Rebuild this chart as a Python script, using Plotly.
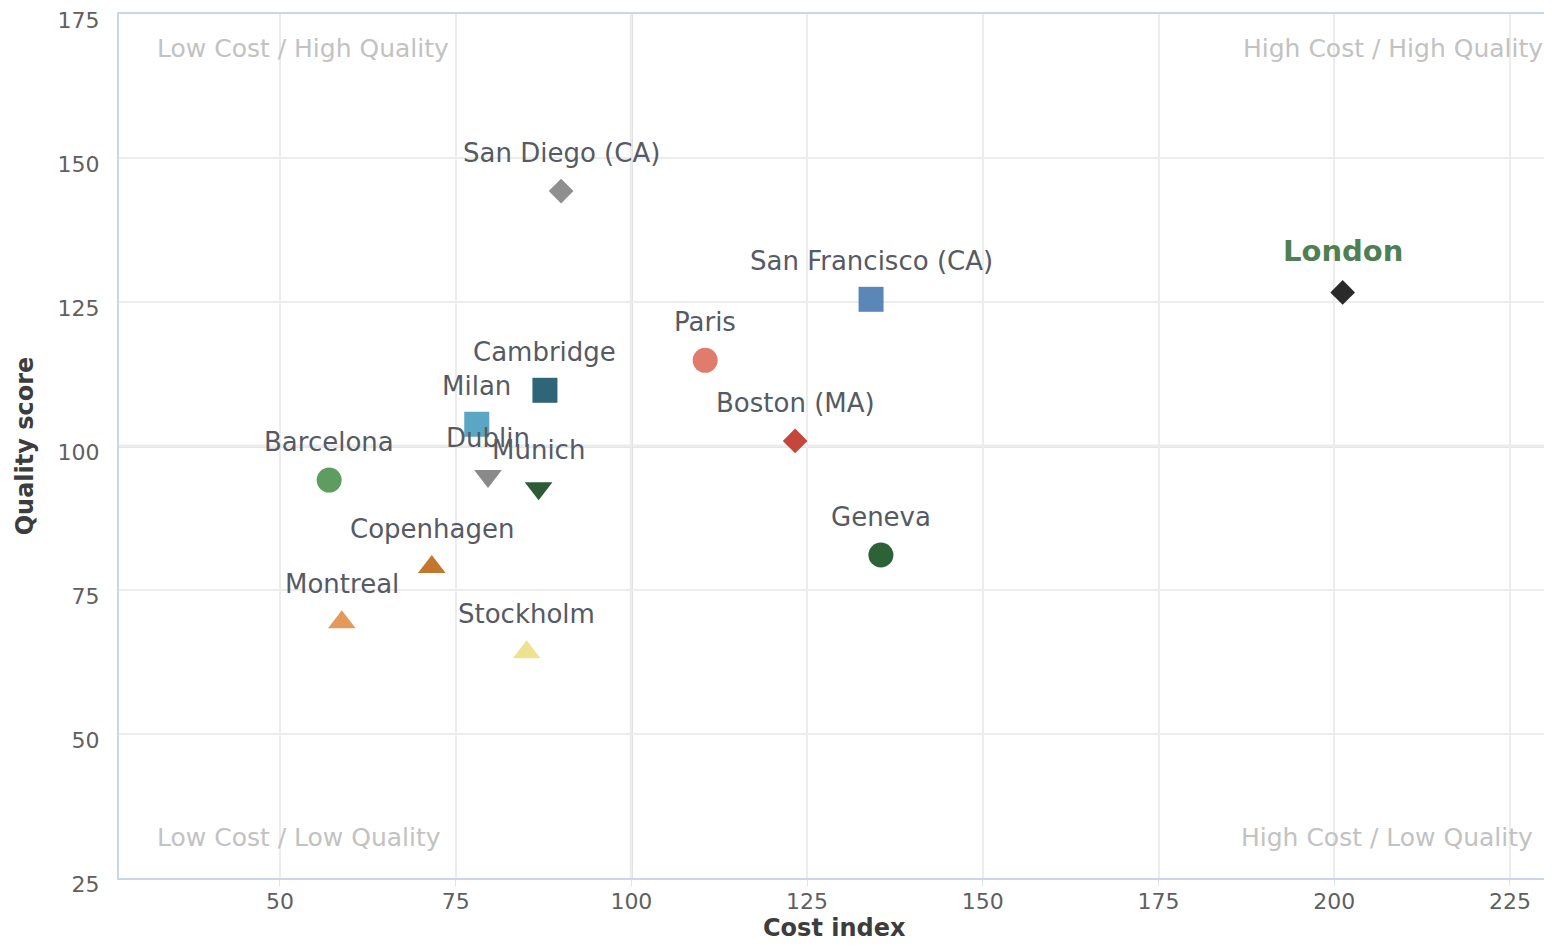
import plotly.graph_objects as go

cities = ["San Diego (CA)", "San Francisco (CA)", "London", "Paris", "Cambridge", "Milan",
          "Boston (MA)", "Barcelona", "Dublin", "Munich", "Copenhagen", "Montreal",
          "Stockholm", "Geneva"]
cost_index = [90.0, 134.1, 201.2, 110.5, 87.7, 78.0, 123.3, 57.0, 79.6, 86.8, 71.6, 58.8, 85.1, 135.5]
quality_score = [144.3, 125.5, 126.7, 114.9, 109.7, 103.8, 100.9, 94.1, 94.8, 92.7, 79.0, 69.4, 64.2, 81.1]
symbols = ["diamond", "square", "diamond", "circle", "square", "square", "diamond", "circle",
           "triangle-down", "triangle-down", "triangle-up", "triangle-up", "triangle-up", "circle"]
colors = ["#8f8f8f", "#5b87b8", "#2a2a2a", "#e07c6b", "#2f6479", "#5ba6c2", "#c3473a", "#5f9c5f",
          "#8a8a8a", "#2f5a36", "#c4762f", "#e29a5c", "#ede28f", "#2d6236"]

x_ticks = [50, 75, 100, 125, 150, 175, 200, 225]
y_ticks = [25, 50, 75, 100, 125, 150, 175]
quadrants = ["Low Cost / High Quality", "High Cost / High Quality",
             "Low Cost / Low Quality", "High Cost / Low Quality"]
x_title = "Cost index"
y_title = "Quality score"

size_map = {"circle": 25, "square": 25, "diamond": 19, "triangle-up": 24, "triangle-down": 24}

fig = go.Figure()
for i, name in enumerate(cities):
    fig.add_trace(go.Scatter(
        x=[cost_index[i]], y=[quality_score[i]], mode="markers", name=name,
        marker=dict(symbol=symbols[i], color=colors[i], size=size_map[symbols[i]],
                    line=dict(width=0)),
        showlegend=False, hoverinfo="x+y+name"))

annotations = []
for i, name in enumerate(cities):
    if name == "London":
        annotations.append(dict(x=cost_index[i], y=quality_score[i], text="<b>London</b>",
                                showarrow=False, yshift=41,
                                font=dict(family="DejaVu Sans", size=29, color="#4f7f52")))
    else:
        annotations.append(dict(x=cost_index[i], y=quality_score[i], text=name,
                                showarrow=False, yshift=38,
                                font=dict(family="DejaVu Sans", size=26, color="#555a63")))

qfont = dict(family="DejaVu Sans", size=25, color="#c2c2c2")
annotations += [
    dict(xref="paper", yref="paper", x=0.0252, y=0.9606, text=quadrants[0], showarrow=False,
         xanchor="left", yanchor="middle", font=qfont),
    dict(xref="paper", yref="paper", x=0.9965, y=0.9606, text=quadrants[1], showarrow=False,
         xanchor="right", yanchor="middle", font=qfont),
    dict(xref="paper", yref="paper", x=0.0252, y=0.0463, text=quadrants[2], showarrow=False,
         xanchor="left", yanchor="middle", font=qfont),
    dict(xref="paper", yref="paper", x=0.9895, y=0.0463, text=quadrants[3], showarrow=False,
         xanchor="right", yanchor="middle", font=qfont),
    dict(xref="paper", yref="paper", x=0.5, y=0, yshift=-50, text="<b>" + x_title + "</b>",
         showarrow=False, xanchor="center", yanchor="middle",
         font=dict(family="DejaVu Sans", size=24, color="#3d3d3d")),
]

shapes = [
    dict(type="line", xref="x", yref="paper", x0=100, x1=100, y0=0, y1=1,
         line=dict(color="#dcdcdc", width=3), layer="below"),
    dict(type="line", xref="paper", yref="y", x0=0, x1=1, y0=100, y1=100,
         line=dict(color="#dcdcdc", width=3), layer="below"),
]

fig.update_layout(
    width=1544, height=932,
    margin=dict(l=111, r=2, t=6, b=62, autoexpand=False),
    paper_bgcolor="white", plot_bgcolor="white",
    annotations=annotations, shapes=shapes,
    font=dict(family="DejaVu Sans", color="#666666"),
    xaxis=dict(range=[27.1, 230.7], tickvals=x_ticks, showgrid=True, gridcolor="#ececec",
               gridwidth=2, zeroline=False, showline=True, linecolor="#ccd6eb", linewidth=2,
               mirror=True, ticks="outside", ticklen=6, tickcolor="#dde3ee",
               tickfont=dict(size=22, color="#5f5f5f"), ticklabelstandoff=-3,
               automargin=False),
    yaxis=dict(range=[25, 175.05], tickvals=y_ticks, showgrid=True, gridcolor="#ececec",
               gridwidth=2, zeroline=False, showline=True, linecolor="#ccd6eb", linewidth=2,
               mirror=True, tickfont=dict(size=22, color="#5f5f5f"), ticklabelstandoff=13,
               ticklabelshift=6, ticklabeloverflow="allow", automargin=False,
               title=dict(text="<b>" + y_title + "</b>", font=dict(size=24, color="#3d3d3d"),
                          standoff=17)),
)

fig.write_html("out.html")
